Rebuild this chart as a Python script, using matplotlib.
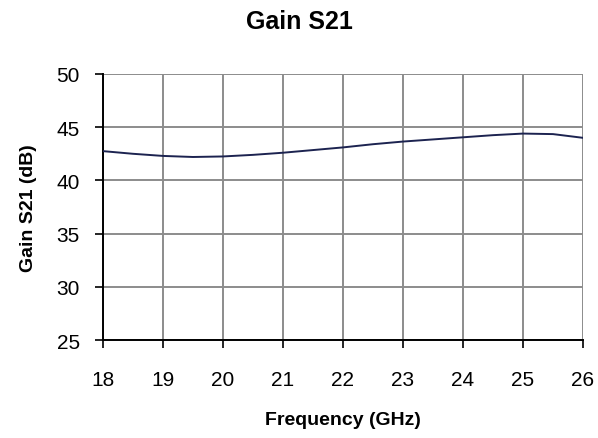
import matplotlib.pyplot as plt

plt.rcParams['font.family'] = ['Liberation Sans', 'DejaVu Sans']

freq = [18, 18.5, 19, 19.5, 20, 20.5, 21, 21.5, 22, 22.5, 23, 23.5, 24, 24.5, 25, 25.5, 26]
gain = [42.75, 42.5, 42.3, 42.2, 42.25, 42.4, 42.6, 42.85, 43.1, 43.4, 43.65, 43.85, 44.05, 44.25, 44.4, 44.35, 44.0]

x_ticks = [18, 19, 20, 21, 22, 23, 24, 25, 26]
y_ticks = [25, 30, 35, 40, 45, 50]

fig = plt.figure(figsize=(5.98, 4.39), dpi=100)
ax = fig.add_axes([0.1722, 0.2232, 0.8027, 0.606])

ax.plot(freq, gain, color='#1c2350', linewidth=1.4, zorder=3)

ax.set_xlim(18, 26)
ax.set_ylim(25, 50)
ax.set_xticks(x_ticks)
ax.set_yticks(y_ticks)
ax.grid(True, color='#8c8c8c', linewidth=1.4)

for s in ['top', 'right']:
    ax.spines[s].set_visible(False)
for s in ['left', 'bottom']:
    ax.spines[s].set_color('black')
    ax.spines[s].set_linewidth(1.4)

ax.tick_params(axis='both', labelsize=15, length=5.8, color='black', width=1.2)
ax.tick_params(axis='x', pad=16)
ax.tick_params(axis='y', pad=11)

ax.set_xlabel('Frequency (GHz)', fontsize=14, fontweight='bold')
ax.set_ylabel('Gain S21 (dB)', fontsize=14, fontweight='bold')
ax.xaxis.set_label_coords(0.5, -0.30)
ax.xaxis.label.set_va('center')
ax.yaxis.set_label_coords(-0.156, 0.5)
ax.yaxis.label.set_va('center')
fig.text(0.5, 0.95, 'Gain S21', fontsize=18, fontweight='bold', ha='center', va='center')

fig.savefig('out.png', dpi=100)
